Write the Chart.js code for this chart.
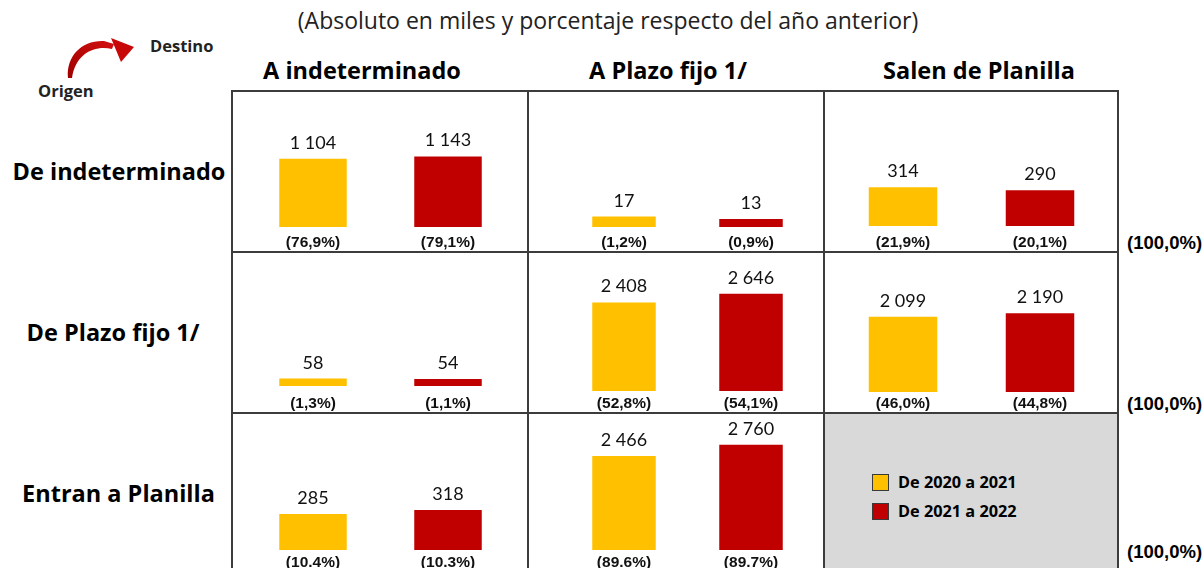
<!DOCTYPE html>
<html lang="es">
<head>
<meta charset="utf-8">
<title>Flujos de trabajadores según tipo de contrato</title>
<script src="https://cdn.jsdelivr.net/npm/chart.js@4.4.0/dist/chart.umd.min.js"></script>
<style>
  html, body { margin: 0; padding: 0; background: #ffffff; overflow: hidden; }
  body { width: 1203px; height: 568px; position: relative; font-family: "Open Sans", Lato, sans-serif; color: #000; }
  .txt { position: absolute; white-space: nowrap; line-height: 1; }
  .subtitle { font-size: 23px; font-weight: 400; color: #222; transform: translate(-50%, -50%); }
  .head { font-size: 23.5px; font-weight: 700; transform: translate(-50%, -50%); }
  .total { font-family: "Liberation Sans", Arial, sans-serif; font-size: 18.5px; font-weight: 700; transform: translateY(-50%); }
  .corner { font-size: 16.5px; font-weight: 700; color: #222; transform: translateY(-50%); }
  .vline, .hline { position: absolute; background: #3c3c3c; }
  .cell { position: absolute; }
  .legend-item { position: absolute; display: flex; align-items: center; font-size: 16.3px; font-weight: 700; }
  .legend-box { width: 15px; height: 15px; border: 1px solid #3a3a3a; margin-right: 9px; }
</style>
</head>
<body>
<div id="stage"></div>
<script>
// ---- data -------------------------------------------------------------
const origins = ['De indeterminado', 'De Plazo fijo 1/', 'Entran a Planilla'];
const destinations = ['A indeterminado', 'A Plazo fijo 1/', 'Salen de Planilla'];
const periods = ['De 2020 a 2021', 'De 2021 a 2022'];

// workers in thousands, by origin (rows) and destination (columns)
const flows2020to2021 = [
  [1104, 17, 314],
  [58, 2408, 2099],
  [285, 2466, null]
];
const flows2021to2022 = [
  [1143, 13, 290],
  [54, 2646, 2190],
  [318, 2760, null]
];
// share of each origin going to each destination (%)
const share2020to2021 = [
  [76.9, 1.2, 21.9],
  [1.3, 52.8, 46.0],
  [10.4, 89.6, null]
];
const share2021to2022 = [
  [79.1, 0.9, 20.1],
  [1.1, 54.1, 44.8],
  [10.3, 89.7, null]
];
const rowTotals = [100.0, 100.0, 100.0];
const decimalMark = [',', ',', '.'];

// upper limit of the value axis of each small chart
const axisMax = [
  [1944, 196, 974],
  [936, 3264, 3342],
  [952, 3150, null]
];

// ---- layout -------------------------------------------------------------
const colX = [232, 528, 824, 1118];
const rowY = [91, 252, 413, 572];
const plotLeft = [245.5, 560.5, 834.5];
const plotWidth = [270, 254, 274];
const baseline = [
  [227, 227, 226],
  [386, 391, 392],
  [550, 550, 550]
];
const plotHeight = 120;
const shareLabelY = [242.5, 403.5, 563];
const COLORS = ['#FFC000', '#C00000'];

const stage = document.getElementById('stage');
function addText(cls, text, x, y) {
  const d = document.createElement('div');
  d.className = 'txt ' + cls;
  d.textContent = text;
  d.style.left = x + 'px';
  d.style.top = y + 'px';
  stage.appendChild(d);
  return d;
}

function fmtThousands(v) {
  return String(v).replace(/\B(?=(\d{3})+(?!\d))/g, ' ');
}
function fmtShare(v, mark) {
  return '(' + v.toFixed(1).replace('.', mark) + '%)';
}

// titles
addText('subtitle', '(Absoluto en miles y porcentaje respecto del año anterior)', 608, 20);
const headX = [362, 668, 979];
destinations.forEach((t, i) => addText('head', t, headX[i], 71));
const rowHeadX = [119, 113, 118.5];
const rowHeadY = [172, 333, 494];
origins.forEach((t, i) => addText('head', t, rowHeadX[i], rowHeadY[i]));
const totalY = [243, 404, 552];
rowTotals.forEach((v, i) => addText('total', fmtShare(v, ','), 1127, totalY[i]));

// corner: origin -> destination
addText('corner', 'Destino', 150, 46);
addText('corner', 'Origen', 38, 91);
const svgNS = 'http://www.w3.org/2000/svg';
const svg = document.createElementNS(svgNS, 'svg');
svg.setAttribute('width', '150');
svg.setAttribute('height', '95');
svg.style.position = 'absolute';
svg.style.left = '0px';
svg.style.top = '0px';
svg.innerHTML =
  '<defs><linearGradient id="arrowGrad" x1="0" y1="1" x2="1" y2="0">' +
  '<stop offset="0" stop-color="#9e0000"/><stop offset="1" stop-color="#d41010"/></linearGradient></defs>' +
  '<path d="M68,78 C66,56 82,40 104,41 L114,44 L112,49 C96,45 76,52 72,78 Z" fill="url(#arrowGrad)"/>' +
  '<polygon points="111,38 134,47 121,62" fill="#c80808"/>';
stage.appendChild(svg);

// grid lines
function vline(x, y0, y1) {
  const d = document.createElement('div');
  d.className = 'vline';
  d.style.left = (x - 1) + 'px';
  d.style.top = (y0 - 1) + 'px';
  d.style.width = '2px';
  d.style.height = (y1 - y0 + 2) + 'px';
  stage.appendChild(d);
}
function hline(y, x0, x1) {
  const d = document.createElement('div');
  d.className = 'hline';
  d.style.left = (x0 - 1) + 'px';
  d.style.top = (y - 1) + 'px';
  d.style.width = (x1 - x0 + 2) + 'px';
  d.style.height = '2px';
  stage.appendChild(d);
}

// legend cell (bottom right, grey)
const legendCell = document.createElement('div');
legendCell.className = 'cell';
legendCell.style.left = colX[2] + 'px';
legendCell.style.top = rowY[2] + 'px';
legendCell.style.width = (colX[3] - colX[2]) + 'px';
legendCell.style.height = (rowY[3] - rowY[2]) + 'px';
legendCell.style.background = '#d9d9d9';
stage.appendChild(legendCell);
const legendY = [482, 511];
periods.forEach((p, i) => {
  const it = document.createElement('div');
  it.className = 'legend-item';
  it.style.left = '872px';
  it.style.top = (legendY[i] - 9) + 'px';
  it.style.height = '18px';
  const box = document.createElement('span');
  box.className = 'legend-box';
  box.style.background = COLORS[i];
  const lab = document.createElement('span');
  lab.textContent = p;
  it.appendChild(box);
  it.appendChild(lab);
  stage.appendChild(it);
});

colX.forEach(x => vline(x, rowY[0], rowY[3]));
rowY.slice(0, 3).forEach(y => hline(y, colX[0], colX[3]));

// value above each bar, share below the plot
const cellLabels = {
  id: 'cellLabels',
  afterDatasetsDraw(chart, args, opts) {
    const ctx = chart.ctx;
    const meta = chart.getDatasetMeta(0);
    ctx.save();
    ctx.fillStyle = '#111';
    meta.data.forEach((bar, j) => {
      const v = chart.data.datasets[0].data[j];
      ctx.font = '18px Lato, "Open Sans", sans-serif';
      ctx.textAlign = 'center';
      ctx.textBaseline = 'alphabetic';
      ctx.fillText(fmtThousands(v), bar.x, bar.y - 10);
      ctx.font = 'bold 15.5px "Liberation Sans", Arial, sans-serif';
      ctx.textBaseline = 'middle';
      ctx.fillText(fmtShare(opts.shares[j], opts.mark), bar.x, opts.shareY);
    });
    ctx.restore();
  }
};

for (let r = 0; r < 3; r++) {
  for (let c = 0; c < 3; c++) {
    if (flows2020to2021[r][c] == null) continue;
    const left = colX[c] + 1, right = colX[c + 1] - 1;
    const top = rowY[r] + 1, bottom = rowY[r + 1] - 1;
    const w = right - left, h = bottom - top;
    const canvas = document.createElement('canvas');
    canvas.width = w;
    canvas.height = h;
    canvas.style.position = 'absolute';
    canvas.style.left = left + 'px';
    canvas.style.top = top + 'px';
    canvas.style.width = w + 'px';
    canvas.style.height = h + 'px';
    stage.appendChild(canvas);

    const base = baseline[r][c];
    new Chart(canvas, {
      type: 'bar',
      data: {
        labels: periods,
        datasets: [{
          data: [flows2020to2021[r][c], flows2021to2022[r][c]],
          backgroundColor: COLORS,
          borderWidth: 0,
          barPercentage: 0.5,
          categoryPercentage: 1.0
        }]
      },
      options: {
        responsive: false,
        animation: false,
        devicePixelRatio: 1,
        layout: {
          padding: {
            left: plotLeft[c] - left,
            right: right - (plotLeft[c] + plotWidth[c]),
            top: base - plotHeight - top,
            bottom: bottom - base
          }
        },
        scales: {
          x: { display: false },
          y: { display: false, min: 0, max: axisMax[r][c] }
        },
        plugins: {
          legend: { display: false },
          tooltip: { enabled: false },
          cellLabels: {
            shares: [share2020to2021[r][c], share2021to2022[r][c]],
            mark: decimalMark[r],
            shareY: shareLabelY[r] - top
          }
        }
      },
      plugins: [cellLabels]
    });
  }
}
</script>
</body>
</html>
